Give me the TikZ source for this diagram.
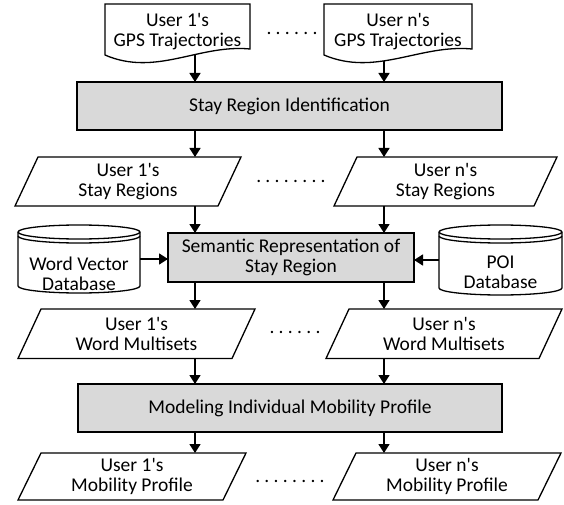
\documentclass[tikz,border=0pt]{standalone}
\usepackage{fontspec}
\setmainfont{Carlito}
\usetikzlibrary{arrows.meta,calc}
\pgfdeclarelayer{background}
\pgfsetlayers{background,main}
\definecolor{boxgray}{HTML}{D9D9D9}
\newcommand\paraoutline[1]{\draw[frame] ($(#1.north west)+(23,0)$) -- (#1.north east) -- ($(#1.south east)+(-23,0)$) -- (#1.south west) -- cycle;}
\newcommand\cylout[2]{%
  \draw[frame, fill=white] ($(#1.north west)+(0,-7)$) -- ($(#1.south west)+(0,7)$) arc[start angle=180,end angle=360,x radius=#2,y radius=7] -- ($(#1.north east)+(0,-7)$) arc[start angle=0,end angle=180,x radius=#2,y radius=7] -- cycle;
  \draw[frame] ($(#1.north west)+(0,-7)$) arc[start angle=180,end angle=360,x radius=#2,y radius=7];
  \draw[frame] ($(#1.north west)+(0,-11)$) arc[start angle=180,end angle=360,x radius=#2,y radius=7];}
\newcommand\docout[1]{%
  \draw[frame, fill=white] ($(#1.north west)+(0,-51)$) -- (#1.north west) -- (#1.north east) -- ($(#1.north east)+(0,-45)$)
    .. controls ($(#1.north west)!0.65!(#1.north east)+(0,-40)$) and ($(#1.north west)!0.35!(#1.north east)+(0,-73)$) .. ($(#1.north west)+(0,-51)$) -- cycle;}
\begin{document}
\begin{tikzpicture}[x=1pt,y=1pt,
  every node/.style={inner sep=0pt, outer sep=0pt, align=center, font=\fontsize{19.5}{20}\selectfont},
  procbox/.style={draw, fill=boxgray, line width=1.3pt},
  frame/.style={line width=1.3pt},
  arr/.style={line width=1.6pt, -{Triangle[width=11pt,length=9pt]}},
  dotrow/.style={font=\fontsize{19.5}{20}\selectfont\addfontfeature{LetterSpace=22}}
]
\useasboundingbox (0,0) rectangle (564,504);
\coordinate (colL) at (195,0);
\coordinate (colR) at (384,0);

% documents
\node[minimum width=145pt, minimum height=56pt] (d1) at (177.5,472) {User 1\textquotesingle s\\GPS Trajectories};
\node[minimum width=148pt, minimum height=56pt] (d2) at (398,472) {User n\textquotesingle s\\GPS Trajectories};
\node[dotrow] (dots0) at (292,471) {......};

% stay region identification
\node[procbox, minimum width=425pt, minimum height=48pt] (bar1) at (289.5,398) {Stay Region Identification};

% stay regions
\node[minimum width=226pt, minimum height=49pt] (p1L) at (128,322.5) {User 1\textquotesingle s\\Stay Regions};
\node[minimum width=223pt, minimum height=49pt] (p1R) at (445.5,322.5) {User n\textquotesingle s\\Stay Regions};
\node[dotrow] (dots1) at (291,323) {........};

% semantic representation
\node[procbox, minimum width=246pt, minimum height=49pt] (sem) at (291,246.5) {Semantic Representation of\\Stay Region};
\node[minimum width=122pt, minimum height=68pt] (cylL) at (79,245) {};
\node[minimum width=123pt, minimum height=70pt] (cylR) at (500.5,244) {};

% word multisets
\node[minimum width=237pt, minimum height=49.5pt] (p2L) at (136.5,170.25) {User 1\textquotesingle s\\Word Multisets};
\node[minimum width=236pt, minimum height=49.5pt] (p2R) at (444,170.25) {User n\textquotesingle s\\Word Multisets};
\node[dotrow] (dots2) at (295,172) {......};

% modeling
\node[procbox, minimum width=424pt, minimum height=48pt] (mod) at (290,96) {Modeling Individual Mobility Profile};

% mobility profiles
\node[minimum width=228pt, minimum height=47pt] (p4L) at (132,27.5) {User 1\textquotesingle s\\Mobility Profile};
\node[minimum width=228pt, minimum height=47pt] (p4R) at (447,27.5) {User n\textquotesingle s\\Mobility Profile};
\node[dotrow] (dots4) at (290,23) {........};

\begin{pgfonlayer}{background}
  \draw[arr] (d1.center -| colL) -- (bar1.north -| colL);
  \draw[arr] (d2.center -| colR) -- (bar1.north -| colR);
  \docout{d1}
  \docout{d2}
  \cylout{cylL}{61}
  \cylout{cylR}{61.5}
\end{pgfonlayer}

\node (cylLt) at (79,230) {Word Vector\\Database};
\node (cylRt) at (500.5,232) {POI\\Database};

\paraoutline{p1L}
\paraoutline{p1R}
\paraoutline{p2L}
\paraoutline{p2R}
\paraoutline{p4L}
\paraoutline{p4R}

\draw[arr] (bar1.south -| colL) -- (p1L.north -| colL);
\draw[arr] (bar1.south -| colR) -- (p1R.north -| colR);
\draw[arr] (p1L.south -| colL) -- (sem.north -| colL);
\draw[arr] (p1R.south -| colR) -- (sem.north -| colR);
\draw[arr] (cylL.east) -- (sem.west |- cylL.east);
\draw[arr] (cylR.west) -- (sem.east |- cylR.west);
\draw[arr] (sem.south -| colL) -- (p2L.north -| colL);
\draw[arr] (sem.south -| colR) -- (p2R.north -| colR);
\draw[arr] (p2L.south -| colL) -- (mod.north -| colL);
\draw[arr] (p2R.south -| colR) -- (mod.north -| colR);
\draw[arr] (mod.south -| colL) -- (p4L.north -| colL);
\draw[arr] (mod.south -| colR) -- (p4R.north -| colR);
\end{tikzpicture}
\end{document}
